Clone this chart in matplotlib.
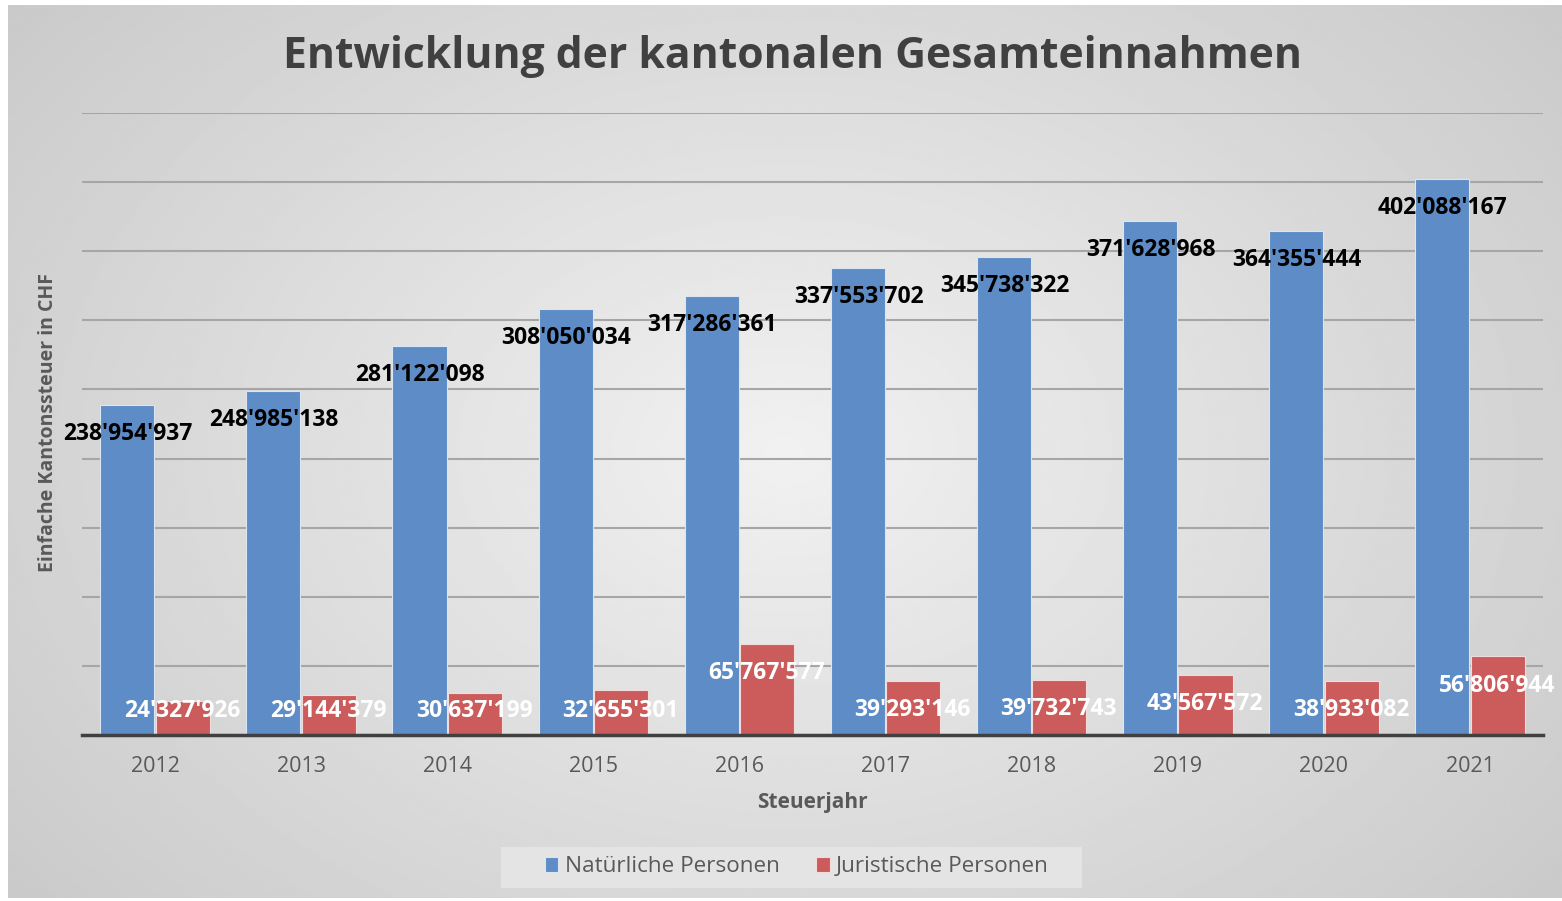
import numpy as np
import matplotlib
import matplotlib.pyplot as plt
from matplotlib.patches import Rectangle

matplotlib.use('Agg')

years = ['2012', '2013', '2014', '2015', '2016', '2017', '2018', '2019', '2020', '2021']
natuerliche = [238954937, 248985138, 281122098, 308050034, 317286361,
               337553702, 345738322, 371628968, 364355444, 402088167]
juristische = [24327926, 29144379, 30637199, 32655301, 65767577,
               39293146, 39732743, 43567572, 38933082, 56806944]

BLUE = '#5e8cc6'
RED = '#cc5b5b'
LABEL_OFF = 21e6


def fmt(v):
    return f'{v:,}'.replace(',', "'")


def main() -> None:
    plt.rcParams['font.family'] = ['Open Sans', 'DejaVu Sans']
    fig = plt.figure(figsize=(15.62, 9.01), dpi=100)
    fig.patch.set_facecolor('white')

    # radial gray background
    bg = fig.add_axes([8 / 1562, 3 / 901, 1 - 8 / 1562, 1 - 8 / 901], zorder=-10)
    yy, xx = np.mgrid[-1:1:300j, -1:1:500j]
    r = np.sqrt(xx ** 2 + (yy * 0.8) ** 2)
    bg.imshow(0.945 - 0.12 * r, cmap='gray', vmin=0, vmax=1, aspect='auto',
              interpolation='bilinear')
    bg.axis('off')

    # legend box
    fig.patches.append(Rectangle((501 / 1562, 1 - 888 / 901), 581 / 1562, 41 / 901,
                                 transform=fig.transFigure, facecolor='#e4e4e4',
                                 edgecolor='none', zorder=-5))

    ax = fig.add_axes([82 / 1562, 1 - 735 / 901, (1543 - 82) / 1562, (735 - 113) / 901])
    ax.set_facecolor('none')
    x = np.arange(len(years))
    w = 0.37
    ax.bar(x - w / 2 - 0.005, natuerliche, w, color=BLUE, edgecolor='#dce6f2', linewidth=0.8,
           label='Natürliche Personen', zorder=3)
    ax.bar(x + w / 2 + 0.005, juristische, w, color=RED, edgecolor='#f2dcdb', linewidth=0.8,
           label='Juristische Personen', zorder=3)

    for i in range(len(years)):
        ax.text(x[i] - w / 2, natuerliche[i] - LABEL_OFF, fmt(natuerliche[i]), ha='center',
                va='center', fontsize=16.5, fontweight='bold', color='black', zorder=5)
        yj = max(juristische[i] - LABEL_OFF, 17.5e6)
        ax.text(x[i] + w / 2, yj, fmt(juristische[i]), ha='center', va='center',
                fontsize=16.5, fontweight='bold', color='white', zorder=5)

    ax.set_xlim(-0.5, len(years) - 0.5)
    ax.set_ylim(0, 450e6)
    ax.set_yticks(np.arange(0, 451e6, 50e6))
    ax.set_yticklabels([])
    ax.tick_params(axis='y', length=0)
    ax.tick_params(axis='x', length=0, pad=15, labelsize=15.5, labelcolor='#595959')
    ax.set_xticks(x)
    ax.set_xticklabels(years)
    ax.grid(axis='y', color='#a6a6a6', linewidth=1.5, zorder=0)
    for s in ['top', 'right', 'left']:
        ax.spines[s].set_visible(False)
    ax.spines['bottom'].set_color('#404040')
    ax.spines['bottom'].set_linewidth(2.5)
    ax.spines['bottom'].set_zorder(4)

    ax.set_xlabel('Steuerjahr', fontsize=15, fontweight='bold', color='#595959', labelpad=11)
    fig.text(48 / 1562, 1 - 422 / 901, 'Einfache Kantonssteuer in CHF', rotation=90,
             ha='center', va='center', fontsize=14, fontweight='bold', color='#595959')
    fig.text(793 / 1562, 1 - 56 / 901, 'Entwicklung der kantonalen Gesamteinnahmen',
             ha='center', va='center', fontsize=30.7, fontweight='bold', color='#404040')

    leg = ax.legend(loc='center', bbox_to_anchor=(797 / 1562, 1 - 867 / 901),
                    bbox_transform=fig.transFigure, ncol=2, fontsize=16.2, frameon=False,
                    handlelength=0.6, handleheight=0.6, handletextpad=0.3, columnspacing=1.6)
    for t in leg.get_texts():
        t.set_color('#595959')

    fig.savefig('out.png', dpi=100)


if __name__ == '__main__':
    main()
